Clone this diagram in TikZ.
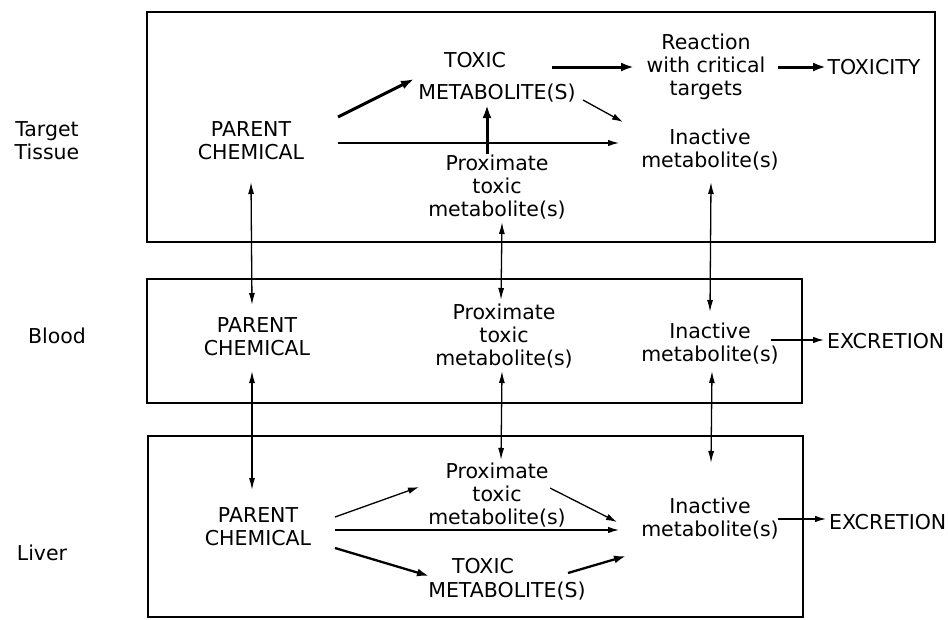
\documentclass[tikz,border=0pt]{standalone}
\usepackage{fontspec}
\setmainfont{DejaVu Sans}
\usetikzlibrary{arrows.meta}
\begin{document}
\begin{tikzpicture}[x=1pt,y=-1pt,
  txt/.style={align=center, inner sep=0pt, font=\fontsize{20.5}{23}\selectfont},
  box/.style={draw, line width=1.2pt},
  thinarr/.style={line width=1.3pt, -{Latex[length=11pt,width=6.5pt]}},
  thickarr/.style={line width=3pt, -{Latex[length=13pt,width=9pt]}},
  medarr/.style={line width=2.3pt, -{Latex[length=12pt,width=8pt]}},
  botharr/.style={line width=1.3pt, {Latex[length=12pt,width=6pt]}-{Latex[length=12pt,width=6pt]}}]
\useasboundingbox (0,0) rectangle (948,619);
% boxes
\draw[box] (147,12) rectangle (935,242);
\draw[box] (147,279) rectangle (802,403);
\draw[box] (148,436) rectangle (803,617);
% side labels
\node[txt] (lblT) at (47,141) {Target\\Tissue};
\node[txt] (lblB) at (57,336) {Blood};
\node[txt] (lblL) at (42,553) {Liver};
% target tissue
\node[txt] (parT) at (251,141) {PARENT\\CHEMICAL};
\node[txt] (toxT) at (475,60) {TOXIC};
\node[txt] (metT) at (497,93) {METABOLITE(S)};
\node[txt] (reac) at (706,67) {Reaction\\with critical\\targets};
\node[txt] (toxy) at (874,67) {TOXICITY};
\node[txt] (inaT) at (710,150) {Inactive\\metabolite(s)};
\node[txt] (proT) at (497,187) {Proximate\\toxic\\metabolite(s)};
% blood
\node[txt] (parB) at (257,337) {PARENT\\CHEMICAL};
\node[txt] (proB) at (504,336) {Proximate\\toxic\\metabolite(s)};
\node[txt] (inaB) at (710,344) {Inactive\\metabolite(s)};
\node[txt, anchor=west] (excB) at (827,341) {EXCRETION};
% liver
\node[txt] (parL) at (258,527) {PARENT\\CHEMICAL};
\node[txt] (proL) at (497,495) {Proximate\\toxic\\metabolite(s)};
\node[txt] (toxL) at (483,566) {TOXIC};
\node[txt] (metL) at (507,591) {METABOLITE(S)};
\node[txt] (inaL) at (710,519) {Inactive\\metabolite(s)};
\node[txt, anchor=west] (excL) at (829,522) {EXCRETION};
% connector end points
\coordinate (a1s) at (338,117); \coordinate (a1e) at (414,79);
\coordinate (a2s) at (552,67);  \coordinate (a2e) at (634,67);
\coordinate (a3s) at (778,67);  \coordinate (a3e) at (826,67);
\coordinate (a4s) at (583,100); \coordinate (a4e) at (623,122);
\coordinate (a5s) at (338,143); \coordinate (a5e) at (619,143);
\coordinate (a6s) at (487,154); \coordinate (a6e) at (487,105);
\coordinate (v1t) at (251,182); \coordinate (v1b) at (252,305);
\coordinate (v2t) at (502,222); \coordinate (v2b) at (501,300);
\coordinate (v3t) at (711,182); \coordinate (v3b) at (710,312);
\coordinate (w1t) at (252,371); \coordinate (w1b) at (252,490);
\coordinate (w2t) at (502,371); \coordinate (w2b) at (501,460);
\coordinate (w3t) at (712,371); \coordinate (w3b) at (711,463);
\coordinate (ebs) at (771,340); \coordinate (ebe) at (824,340);
\coordinate (els) at (778,519); \coordinate (ele) at (826,519);
\coordinate (b1s) at (335,517); \coordinate (b1e) at (419,487);
\coordinate (b2s) at (335,530); \coordinate (b2e) at (619,530);
\coordinate (b3s) at (335,548); \coordinate (b3e) at (429,576);
\coordinate (b4s) at (550,488); \coordinate (b4e) at (617,522);
\coordinate (b5s) at (568,573); \coordinate (b5e) at (626,556);
% target arrows
\draw[thickarr] (a1s) -- (a1e);
\draw[thickarr] (a2s) -- (a2e);
\draw[thickarr] (a3s) -- (a3e);
\draw[thinarr] (a4s) -- (a4e);
\draw[thinarr] (a5s) -- (a5e);
\draw[thickarr] (a6s) -- (a6e);
% exchange arrows
\draw[botharr] (v1t) -- (v1b);
\draw[botharr] (v2t) -- (v2b);
\draw[botharr] (v3t) -- (v3b);
\draw[botharr] (w1t) -- (w1b);
\draw[botharr] (w2t) -- (w2b);
\draw[botharr] (w3t) -- (w3b);
% excretion
\draw[thinarr] (ebs) -- (ebe);
\draw[thinarr] (els) -- (ele);
% liver arrows
\draw[thinarr] (b1s) -- (b1e);
\draw[thinarr] (b2s) -- (b2e);
\draw[medarr] (b3s) -- (b3e);
\draw[thinarr] (b4s) -- (b4e);
\draw[medarr] (b5s) -- (b5e);
\end{tikzpicture}
\end{document}
